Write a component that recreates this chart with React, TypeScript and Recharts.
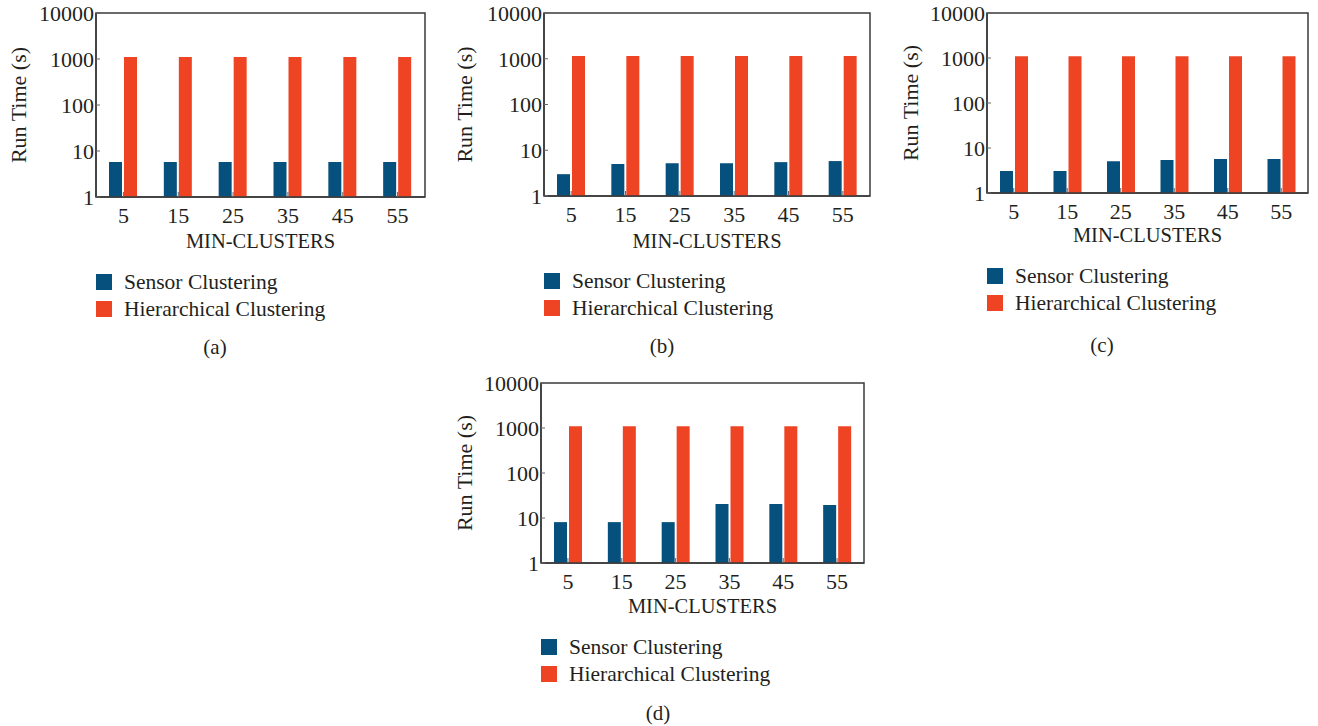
import { Bar, BarChart, Legend, ReferenceArea, XAxis, YAxis } from 'recharts';

const categories = ['5', '15', '25', '35', '45', '55'];
const yTicks = [1, 10, 100, 1000, 10000];
const seriesNames = ['Sensor Clustering', 'Hierarchical Clustering'];

const sensorA = [5.8, 5.8, 5.8, 5.8, 5.8, 5.8];
const hierA = [1100, 1100, 1100, 1100, 1100, 1100];
const sensorB = [3.0, 5.0, 5.2, 5.2, 5.5, 5.8];
const hierB = [1150, 1150, 1150, 1150, 1150, 1150];
const sensorC = [3.1, 3.1, 5.1, 5.4, 5.7, 5.7];
const hierC = [1100, 1100, 1100, 1100, 1100, 1100];
const sensorD = [8.1, 8.1, 8.1, 20.5, 20.5, 19.5];
const hierD = [1100, 1100, 1100, 1100, 1100, 1100];

const FONT = '"Liberation Serif", "DejaVu Serif", serif';
const BLUE = '#05507c';
const RED = '#ee4424';
const INK = '#231f20';
const AXIS = '#3a3a3a';

const panels = [
  { id: 'a', sensor: sensorA, hier: hierA, top: 0, plotLeft: 96, plotRight: 425, plotTop: 13, plotBottom: 197, xAxisH: 53, labelX: 18.5, legendLeft: 96, legendY: 282, capX: 215, capY: 347 },
  { id: 'b', sensor: sensorB, hier: hierB, top: 0, plotLeft: 544, plotRight: 870, plotTop: 13, plotBottom: 196, xAxisH: 54, labelX: 464, legendLeft: 544, legendY: 281, capX: 662, capY: 346 },
  { id: 'c', sensor: sensorC, hier: hierC, top: 0, plotLeft: 987, plotRight: 1308, plotTop: 13, plotBottom: 193, xAxisH: 50.5, labelX: 910, legendLeft: 987, legendY: 276, capX: 1102, capY: 345 },
  { id: 'd', sensor: sensorD, hier: hierD, top: 370, plotLeft: 541, plotRight: 864, plotTop: 383, plotBottom: 563, xAxisH: 52, labelX: 464, legendLeft: 541, legendY: 647, capX: 658, capY: 713 },
];

const Y_AXIS_W = 96;
const CHART_H = 330;

function LegendBox({ payload }: any) {
  const items = [...(payload || [])].sort(
    (a: any, b: any) => seriesNames.indexOf(a.value) - seriesNames.indexOf(b.value)
  );
  return (
    <div style={{ fontFamily: FONT, fontSize: 21.5, color: INK }}>
      {items.map((p: any) => (
        <div key={p.value} style={{ display: 'flex', alignItems: 'center', height: 27, whiteSpace: 'nowrap' }}>
          <span style={{ width: 16, height: 16, background: p.color, marginRight: 12, display: 'inline-block' }} />
          <span>{p.value}</span>
        </div>
      ))}
    </div>
  );
}

function Panel({ p }: { p: (typeof panels)[number] }) {
  const data = categories.map((c, i) => ({ name: c, sensor: p.sensor[i], hier: p.hier[i] }));
  const chartLeft = p.plotLeft - Y_AXIS_W;
  const width = p.plotRight - chartLeft + 2;
  const marginTop = p.plotTop - p.top;
  const marginBottom = CHART_H - (p.plotBottom - p.top) - p.xAxisH;

  return (
    <>
      <div style={{ position: 'absolute', left: chartLeft, top: p.top }}>
        <BarChart
          width={width}
          height={CHART_H}
          data={data}
          margin={{ top: marginTop, right: 2, bottom: marginBottom, left: 0 }}
          barGap={2}
          barSize={13}
        >
          <XAxis
            dataKey="name"
            height={p.xAxisH}
            axisLine={{ stroke: AXIS, strokeWidth: 1.5 }}
            tickLine={{ stroke: '#666' }}
            tickSize={-5}
            tickMargin={15}
            tick={{ fill: INK, fontSize: 22, fontFamily: FONT }}
            interval={0}
            label={{ value: 'MIN-CLUSTERS', position: 'insideBottom', offset: 2, fill: INK, fontSize: 20.5, fontFamily: FONT }}
          />
          <YAxis
            scale="log"
            domain={[1, 10000]}
            ticks={yTicks}
            allowDataOverflow
            width={Y_AXIS_W}
            axisLine={{ stroke: AXIS, strokeWidth: 1.5 }}
            tickLine={{ stroke: '#666' }}
            tickSize={-4}
            tickMargin={6}
            tick={{ fill: INK, fontSize: 22, fontFamily: FONT }}
            label={{ value: 'Run Time (s)', angle: -90, position: 'insideLeft', offset: p.labelX - chartLeft, fill: INK, fontSize: 22, fontFamily: FONT, style: { textAnchor: 'middle' } }}
          />
          <ReferenceArea y1={1} y2={10000} fill="none" stroke={AXIS} strokeWidth={1.5} ifOverflow="visible" />
          <Legend
            layout="vertical"
            align="center"
            verticalAlign="middle"
            content={<LegendBox />}
            wrapperStyle={{ left: p.legendLeft - chartLeft, top: p.legendY - p.top - 13.5, width: 'auto', height: 'auto' }}
          />
          <Bar dataKey="sensor" name="Sensor Clustering" fill={BLUE} isAnimationActive={false} />
          <Bar dataKey="hier" name="Hierarchical Clustering" fill={RED} isAnimationActive={false} />
        </BarChart>
      </div>
      <div
        style={{
          position: 'absolute',
          left: p.capX - 30,
          width: 60,
          top: p.capY - 13,
          height: 26,
          lineHeight: '26px',
          textAlign: 'center',
          fontFamily: FONT,
          fontSize: 21,
          color: INK,
        }}
      >
        ({p.id})
      </div>
    </>
  );
}

export default function App() {
  return (
    <div style={{ position: 'absolute', left: 0, top: 0, width: 1318, height: 726, background: '#fff', overflow: 'hidden' }}>
      {panels.map((p) => (
        <Panel key={p.id} p={p} />
      ))}
    </div>
  );
}
